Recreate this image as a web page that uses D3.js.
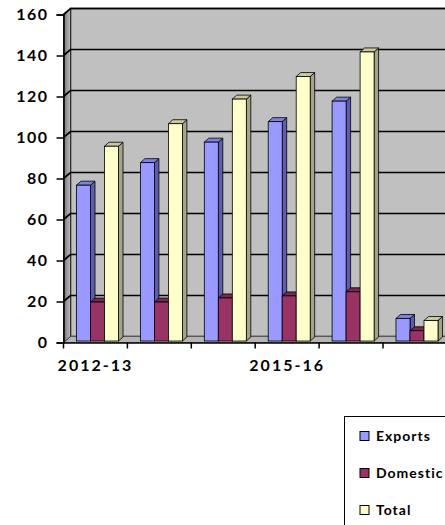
<!DOCTYPE html>
<html>
<head>
<meta charset="utf-8">
<script src="https://cdn.jsdelivr.net/npm/d3@7"></script>
<style>
  body { margin: 0; background: #fff; overflow: hidden; }
  text { font-family: Lato, "Open Sans", sans-serif; font-weight: bold; fill: #000; }
</style>
</head>
<body>
<svg id="chart"></svg>
<script>
var categories = ["2012-13", "2013-14", "2014-15", "2015-16", "2016-17", "CAGR"];
var exports = [76, 87, 97, 107, 117, 11];
var domestic = [19, 19, 21, 22, 24, 5];
var total = [95, 106, 118, 129, 141, 10];
var yTicks = [0, 20, 40, 60, 80, 100, 120, 140, 160];

var series = [
  { name: "Exports", values: exports, front: "#9999FF", side: "#5D5DB0", top: "#8080E0" },
  { name: "Domestic", values: domestic, front: "#993366", side: "#5E1F3F", top: "#7A2850" },
  { name: "Total", values: total, front: "#FFFFCC", side: "#A3A385", top: "#C8C8A0" }
];

var screen = { width: 445, height: 525 };
var wall = { dx: 7, dy: -6 };
var bar = { dx: 4.5, dy: -4, w: 14, offset: 13, lift: 1.5 };

var svg = d3.select("#chart")
  .attr("width", screen.width)
  .attr("height", screen.height);

var defs = svg.append("defs");
var grad = defs.append("linearGradient").attr("id", "wallGrad")
  .attr("x1", "0").attr("x2", "1").attr("y1", "0").attr("y2", "0");
grad.append("stop").attr("offset", "0").attr("stop-color", "#6a6a6a");
grad.append("stop").attr("offset", "0.5").attr("stop-color", "#9a9a9a");
grad.append("stop").attr("offset", "1").attr("stop-color", "#b8b8b8");

var xScale = d3.scaleBand()
  .domain(categories)
  .range([63.5, 63.5 + categories.length * 63.9]);

var yScale = d3.scaleLinear()
  .domain([0, 160])
  .range([342.5, 14.5]);

var x0 = xScale.range()[0];
var xEnd = 600;
var y0 = yScale(0);
var yTop = yScale(160);

// back wall
svg.append("rect")
  .attr("x", x0 + wall.dx)
  .attr("y", yTop + wall.dy)
  .attr("width", xEnd)
  .attr("height", y0 - yTop)
  .attr("fill", "#C0C0C0")
  .attr("stroke", "#000")
  .attr("stroke-width", 1.5);

// floor
svg.append("path")
  .attr("d", "M" + x0 + "," + y0 + " L" + (x0 + wall.dx) + "," + (y0 + wall.dy) +
    " L" + xEnd + "," + (y0 + wall.dy) + " L" + xEnd + "," + y0 + " Z")
  .attr("fill", "#B4B4B4")
  .attr("stroke", "#555")
  .attr("stroke-width", 0.8);

// left wall
svg.append("path")
  .attr("d", "M" + x0 + "," + y0 + " L" + x0 + "," + yTop +
    " L" + (x0 + wall.dx) + "," + (yTop + wall.dy) +
    " L" + (x0 + wall.dx) + "," + (y0 + wall.dy) + " Z")
  .attr("fill", "url(#wallGrad)")
  .attr("stroke", "#333")
  .attr("stroke-width", 1);

// gridlines
var grid = svg.append("g");
grid.selectAll("path")
  .data(yTicks.filter(function(d) { return d > 0; }))
  .enter()
  .append("path")
  .attr("d", function(d) {
    var y = yScale(d);
    return "M" + x0 + "," + y + " L" + (x0 + wall.dx) + "," + (y + wall.dy) + " L" + xEnd + "," + (y + wall.dy);
  })
  .attr("fill", "none")
  .attr("stroke", "#000")
  .attr("stroke-width", 1.7);

// bars
var barsG = svg.append("g");
categories.forEach(function(cat, i) {
  series.forEach(function(s, j) {
    var v = s.values[i];
    var xl = xScale(cat) + bar.offset + j * bar.w;
    var xr = xl + bar.w;
    var yb = y0 - bar.lift;
    var yt = yScale(v) - bar.lift;
    var g = barsG.append("g");
    g.append("path")
      .attr("d", "M" + xr + "," + yb + " L" + (xr + bar.dx) + "," + (yb + bar.dy) +
        " L" + (xr + bar.dx) + "," + (yt + bar.dy) + " L" + xr + "," + yt + " Z")
      .attr("fill", s.side).attr("stroke", "#000").attr("stroke-width", 0.8);
    g.append("path")
      .attr("d", "M" + xl + "," + yt + " L" + (xl + bar.dx) + "," + (yt + bar.dy) +
        " L" + (xr + bar.dx) + "," + (yt + bar.dy) + " L" + xr + "," + yt + " Z")
      .attr("fill", s.top).attr("stroke", "#000").attr("stroke-width", 0.8);
    g.append("rect")
      .attr("x", xl).attr("y", yt)
      .attr("width", bar.w).attr("height", yb - yt)
      .attr("fill", s.front).attr("stroke", "#000").attr("stroke-width", 0.8);
  });
});

// y axis
var yAxis = d3.axisLeft(yScale).tickValues(yTicks).tickSize(7).tickPadding(8);
var yG = svg.append("g")
  .attr("transform", "translate(" + x0 + ",0)")
  .call(yAxis);
yG.select(".domain").attr("stroke", "#000").attr("stroke-width", 1.5);
yG.selectAll(".tick line").attr("stroke", "#000").attr("stroke-width", 1.5);
yG.selectAll(".tick text")
  .attr("font-size", 16)
  .attr("letter-spacing", 1.5)
  .attr("font-family", "Lato, sans-serif")
  .attr("font-weight", "bold")
  .attr("fill", "#000");

// x axis
var xAxis = d3.axisBottom(xScale).tickSize(6).tickSizeOuter(0).tickFormat(function(d, i) { return i % 3 === 0 ? d : ""; });
var xG = svg.append("g")
  .attr("transform", "translate(0," + y0 + ")")
  .call(xAxis);
xG.select(".domain").attr("stroke", "#000").attr("stroke-width", 1.5);
xG.selectAll(".tick line")
  .attr("stroke", "#000").attr("stroke-width", 1.5)
  .attr("transform", "translate(" + (-xScale.bandwidth() / 2) + ",0)");
xG.selectAll(".tick text")
  .attr("y", 17)
  .attr("dy", "0.71em")
  .attr("font-size", 16)
  .attr("letter-spacing", 2)
  .attr("font-family", "Lato, sans-serif")
  .attr("font-weight", "bold")
  .attr("fill", "#000");

// legend
var legend = svg.append("g");
legend.append("rect")
  .attr("x", 344.5).attr("y", 416.5)
  .attr("width", 140).attr("height", 140)
  .attr("fill", "#fff").attr("stroke", "#000").attr("stroke-width", 1);
var items = legend.selectAll("g.item")
  .data(series)
  .enter()
  .append("g")
  .attr("class", "item")
  .attr("transform", function(d, i) { return "translate(360," + (431.5 + i * 37) + ")"; });
items.append("rect")
  .attr("width", 9).attr("height", 9)
  .attr("fill", function(d) { return d.front; })
  .attr("stroke", "#000").attr("stroke-width", 1);
items.append("text")
  .attr("x", 16).attr("y", 9.5)
  .attr("font-size", 14)
  .attr("letter-spacing", 1)
  .text(function(d) { return d.name; });
</script>
</body>
</html>
